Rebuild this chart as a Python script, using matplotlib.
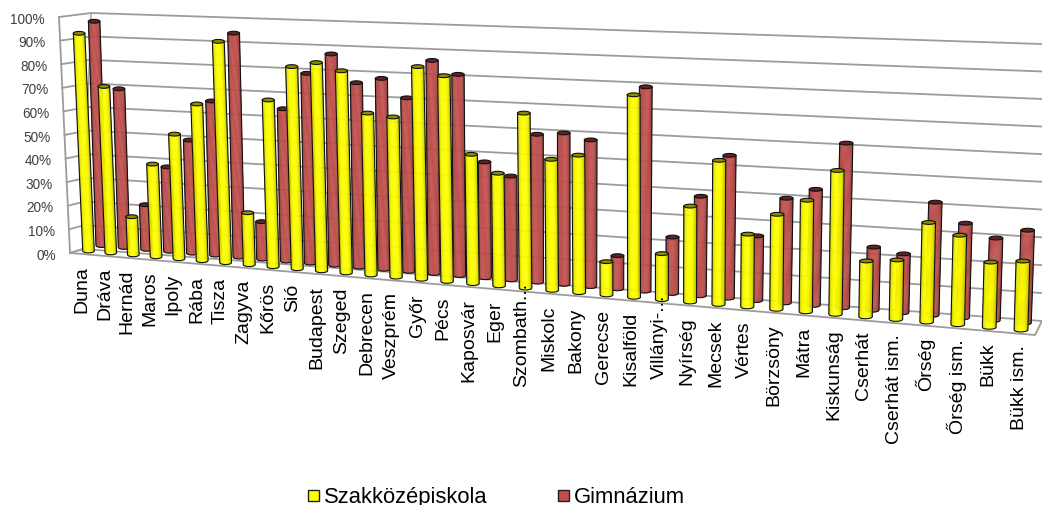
import numpy as np
import matplotlib
matplotlib.use("Agg")
import matplotlib.pyplot as plt
from matplotlib.patches import Rectangle

plt.rcParams['font.family'] = ['Liberation Sans', 'DejaVu Sans']

categories = ["Duna", "Dráva", "Hernád", "Maros", "Ipoly", "Rába", "Tisza", "Zagyva", "Kőrös",
              "Sió", "Budapest", "Szeged", "Debrecen", "Veszprém", "Győr", "Pécs", "Kaposvár",
              "Eger", "Szombath...", "Miskolc", "Bakony", "Gerecse", "Kisalföld", "Villányi-...",
              "Nyírség", "Mecsek", "Vértes", "Börzsöny", "Mátra", "Kiskunság", "Cserhát",
              "Cserhát ism.", "Őrség", "Őrség ism.", "Bükk", "Bükk ism."]

szakkozep = [.916, .700, .161, .388, .518, .647, .905, .214, .678, .816, .836, .808,
             .646, .636, .837, .806, .507, .440, .677, .506, .528, .128, .766, .175,
             .362, .539, .272, .353, .412, .527, .205, .217, .360, .322, .234, .246]
gimnazium = [.947, .670, .189, .355, .473, .640, .921, .155, .624, .772, .854, .744,
             .766, .694, .846, .796, .459, .410, .579, .590, .569, .129, .782, .217,
             .380, .541, .245, .394, .434, .611, .235, .218, .415, .346, .300, .336]

pct_labels = ["0%", "10%", "20%", "30%", "40%", "50%", "60%", "70%", "80%", "90%", "100%"]


def homography(corners):
    # corners for (0,0) (1,0) (1,1) (0,1)
    src = [(0, 0), (1, 0), (1, 1), (0, 1)]
    A, b = [], []
    for (s, v), (x, y) in zip(src, corners):
        A.append([s, v, 1, 0, 0, 0, -s*x, -v*x])
        A.append([0, 0, 0, s, v, 1, -s*y, -v*y])
        b += [x, y]
    return np.append(np.linalg.solve(np.array(A, float), np.array(b, float)), 1).reshape(3, 3)


def project(H, s, v):
    p = H @ np.array([s, v, 1.0])
    return p[0]/p[2], p[1]/p[2]


# perspective planes, pixel space
H_wall = homography([(83, 250), (1042, 322), (1042, 45), (91, 14)])
H_yellow = homography([(88.5, 252), (1021, 331), (1029, 46), (78.2, 14)])
H_red = homography([(101.7, 246.5), (1024.5, 324), (1034, 44), (93.7, 9.5)])

front_bottom = np.array([70, 254.0])
front_top = np.array([59, 18.0])

fig = plt.figure(figsize=(10.42, 5.06), dpi=100)
ax = fig.add_axes([0, 0, 1, 1])
ax.set_xlim(0, 1042)
ax.set_ylim(506, 0)
ax.axis("off")

gray = "#9c9c9c"
n = len(categories)

# grid on back wall + side wall
for k in range(11):
    v = k/10
    xa, ya = project(H_wall, 0, v)
    xb, yb = project(H_wall, 1, v)
    fx, fy = front_bottom + (front_top-front_bottom)*v
    ax.plot([fx, xa, xb], [fy, ya, yb], color=gray, lw=1.3, zorder=1)
    ax.text(fx-14, fy+1.5, pct_labels[k], ha="right", va="center", fontsize=9.8, color="#404040")

# wall edges and floor
ax.plot([front_bottom[0], front_top[0]], [front_bottom[1], front_top[1]], color=gray, lw=1.3, zorder=1)
ax.plot([83, 91], [250, 14], color=gray, lw=1.0, zorder=1)
ax.plot([70, 1035, 1042], [254, 336, 322], color=gray, lw=1.3, zorder=1)
ax.plot([70, 83], [254, 250], color=gray, lw=1.3, zorder=1)


def cylinder(H, t, value, base_col, top_col, z):
    bx, by = project(H, t, 0)
    tx, ty = project(H, t, value)
    height = project(H, t, 0)[1]-project(H, t, 1)[1]
    hw = 0.0242*height
    ry = 1.9
    base_col = np.array(matplotlib.colors.to_rgb(base_col))
    us = np.linspace(-1, 1, 15)
    for u0, u1 in zip(us[:-1], us[1:]):
        um = (u0+u1)/2
        col = base_col*(1-0.3*abs(um)**3)
        xs = [bx+hw*u0, bx+hw*u1, tx+hw*u1, tx+hw*u0]
        ys = [by+ry*np.sqrt(1-u0**2), by+ry*np.sqrt(1-u1**2), ty, ty]
        ax.fill(xs, ys, color=col, lw=0.3, zorder=z)
    uu = np.linspace(-1, 1, 31)
    ox = np.concatenate([tx+hw*uu[:1], bx+hw*uu, tx+hw*uu[-1:]])
    oy = np.concatenate([[ty], by+ry*np.sqrt(1-uu**2), [ty]])
    ax.plot(ox, oy, color="#111111", lw=0.8, zorder=z+0.1)
    a = np.linspace(0, 2*np.pi, 40)
    ax.fill(tx+hw*np.cos(a), ty+ry*np.sin(a), facecolor=top_col, edgecolor="#111111", lw=0.8, zorder=z+0.1)


for i in range(n):
    cylinder(H_red, i/(n-1), gimnazium[i], "#c0504d", "#5e2422", 2+i*0.01)
for i in range(n):
    cylinder(H_yellow, i/(n-1), szakkozep[i], "#ffff00", "#8c8c00", 3+i*0.01)

# category labels hang under the floor edge
for i, name in enumerate(categories):
    t = i/(n-1)
    bx, by = project(H_yellow, t, 0)
    lift = 20 if name.endswith("...") else 0
    ax.text(bx-6.5+5.5*t, by+14-lift, name, rotation=90, ha="center", va="top",
            fontsize=14, color="black", zorder=6)

# legend
ax.add_patch(Rectangle((308, 491), 11, 11, fc="#ffff00", ec="#222222", lw=1.0))
ax.text(324, 503, "Szakközépiskola", fontsize=15.8, va="baseline", color="black")
ax.add_patch(Rectangle((558, 491), 11, 11, fc="#c0504d", ec="#222222", lw=1.0))
ax.text(574, 503, "Gimnázium", fontsize=15.8, va="baseline", color="black")

fig.savefig("out.png", dpi=100)
